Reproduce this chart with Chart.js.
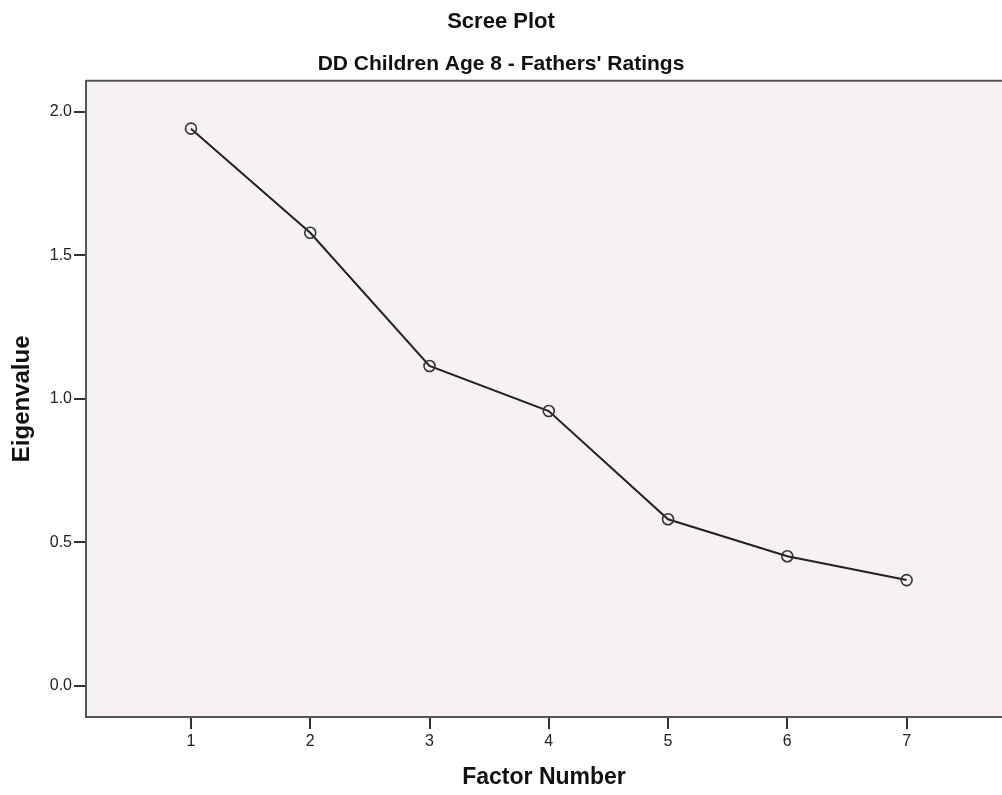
<!DOCTYPE html>
<html><head><meta charset="utf-8">
<script src="https://cdn.jsdelivr.net/npm/chart.js@4/dist/chart.umd.min.js"></script>
<style>html,body{margin:0;padding:0;background:#fff}#wrap{width:1002px;height:795px}</style>
</head><body><div id="wrap"><canvas id="c" width="1002" height="795"></canvas></div>
<script>
const factors = [1, 2, 3, 4, 5, 6, 7];
const eigenvalues = [1.942, 1.579, 1.115, 0.958, 0.581, 0.452, 0.369];
const xTicks = [1, 2, 3, 4, 5, 6, 7];
const yTicks = [0.0, 0.5, 1.0, 1.5, 2.0];
const chartTitle = 'Scree Plot';
const chartSubtitle = "DD Children Age 8 - Fathers' Ratings";
const xTitle = 'Factor Number';
const yTitle = 'Eigenvalue';

const FONT = "'Liberation Sans', Arial, sans-serif";
const bgPlugin = {
  id: 'bg',
  beforeDraw(chart) {
    const {ctx, chartArea: a} = chart;
    ctx.save();
    ctx.fillStyle = '#f5f1f5';
    ctx.fillRect(a.left, a.top, a.right - a.left, a.bottom - a.top);
    ctx.strokeStyle = '#555';
    ctx.lineWidth = 2;
    ctx.beginPath();
    ctx.moveTo(a.left, a.top);
    ctx.lineTo(a.right, a.top);
    ctx.stroke();
    ctx.restore();
  }
};

new Chart(document.getElementById('c'), {
  type: 'line',
  data: {
    datasets: [{
      data: factors.map((f, i) => ({x: f, y: eigenvalues[i]})),
      borderColor: '#222',
      borderWidth: 2,
      pointRadius: 5.5,
      pointHoverRadius: 5.5,
      pointBorderWidth: 1.6,
      pointBorderColor: '#333',
      pointBackgroundColor: 'rgba(0,0,0,0)',
      tension: 0
    }]
  },
  options: {
    responsive: false,
    animation: false,
    layout: {padding: 0, autoPadding: false},
    plugins: {
      legend: {display: false},
      tooltip: {enabled: false},
      title: {display: true, text: chartTitle, color: '#111',
        font: {family: FONT, size: 22, weight: 'bold', lineHeight: 1.2},
        padding: {top: 9, bottom: 0}},
      subtitle: {display: true, text: chartSubtitle, color: '#111',
        font: {family: FONT, size: 21, weight: 'bold', lineHeight: 1.2},
        padding: {top: 16.6, bottom: 3.5}}
    },
    scales: {
      x: {
        type: 'linear', min: 0.12, max: 7.8,
        afterBuildTicks(s) { s.ticks = xTicks.map(v => ({value: v})); },
        afterFit(s) { s.height = 78; s.paddingLeft = 0; s.paddingRight = 0; },
        ticks: {color: '#222', font: {family: FONT, size: 16}, padding: 3,
          maxRotation: 0, callback: v => String(v)},
        grid: {display: true, drawOnChartArea: false, tickLength: 12, color: '#333', lineWidth: 2},
        border: {display: true, color: '#555', width: 2},
        title: {display: true, text: xTitle, color: '#111',
          font: {family: FONT, size: 23, weight: 'bold', lineHeight: 1.2},
          padding: {top: 0, bottom: 3.2}}
      },
      y: {
        type: 'linear', min: -0.108, max: 2.109,
        afterBuildTicks(s) { s.ticks = yTicks.map(v => ({value: v})); },
        afterFit(s) { s.width = 86; s.paddingTop = 0; s.paddingBottom = 0; },
        ticks: {color: '#222', font: {family: FONT, size: 16}, padding: 2,
          callback: v => v.toFixed(1)},
        grid: {display: true, drawOnChartArea: false, tickLength: 12, color: '#333', lineWidth: 2},
        border: {display: true, color: '#555', width: 2},
        title: {display: true, text: yTitle, color: '#111',
          font: {family: FONT, size: 24, weight: 'bold', lineHeight: 1.2},
          padding: {top: 8.1, bottom: 0}}
      }
    }
  },
  plugins: [bgPlugin]
});
</script>
</body></html>
